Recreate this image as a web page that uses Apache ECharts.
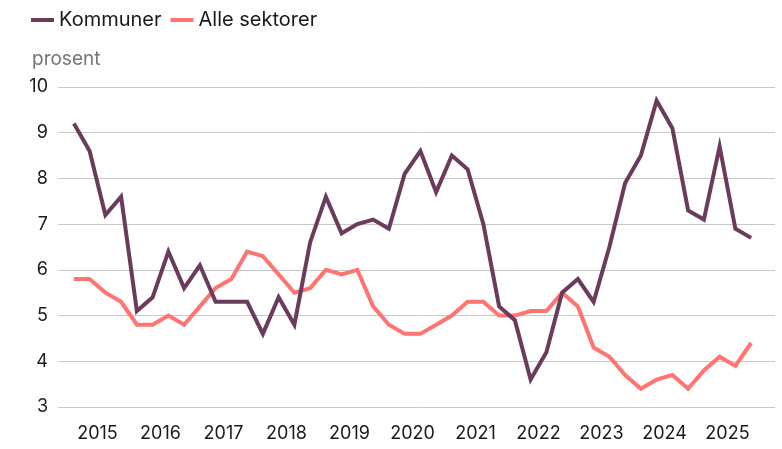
<!DOCTYPE html>
<html>
<head>
<meta charset="utf-8">
<script src="https://cdn.jsdelivr.net/npm/echarts@6/dist/echarts.min.js"></script>
<style>
  html, body { margin: 0; padding: 0; background: #fff; }
  #chart { width: 782px; height: 449px; }
</style>
</head>
<body>
<div id="chart"></div>
<script>
// kvartalsdata 2015K1 - 2025K4
const quarters = [];
for (let y = 2015; y <= 2025; y++) {
    for (let q = 1; q <= 4; q++) quarters.push(y + 'K' + q);
}
const years = ['2015', '2016', '2017', '2018', '2019', '2020', '2021', '2022', '2023', '2024', '2025'];

const kommuner = [
    9.2, 8.6, 7.2, 7.6, 5.1, 5.4, 6.4, 5.6, 6.1, 5.3, 5.3, 5.3,
    4.6, 5.4, 4.8, 6.6, 7.6, 6.8, 7.0, 7.1, 6.9, 8.1, 8.6, 7.7,
    8.5, 8.2, 7.0, 5.2, 4.9, 3.6, 4.2, 5.5, 5.8, 5.3, 6.5, 7.9,
    8.5, 9.7, 9.1, 7.3, 7.1, 8.7, 6.9, 6.7
];
const alleSektorer = [
    5.8, 5.8, 5.5, 5.3, 4.8, 4.8, 5.0, 4.8, 5.2, 5.6, 5.8, 6.4,
    6.3, 5.9, 5.5, 5.6, 6.0, 5.9, 6.0, 5.2, 4.8, 4.6, 4.6, 4.8,
    5.0, 5.3, 5.3, 5.0, 5.0, 5.1, 5.1, 5.5, 5.2, 4.3, 4.1, 3.7,
    3.4, 3.6, 3.7, 3.4, 3.8, 4.1, 3.9, 4.4
];

const fontFamily = 'Inter, "Liberation Sans", sans-serif';

const chart = echarts.init(document.getElementById('chart'));

let option = {
    animation: false,
    textStyle: { fontFamily: fontFamily },
    title: {
        text: 'prosent',
        left: 27,
        top: 45,
        textStyle: { fontSize: 19, fontWeight: 'normal', color: '#757575', fontFamily: fontFamily }
    },
    legend: {
        left: 26,
        top: 5,
        icon: 'rect',
        itemWidth: 23,
        itemHeight: 4,
        itemGap: 9,
        textStyle: { fontSize: 20, color: '#1a1a1a', fontFamily: fontFamily },
        data: ['Kommuner', 'Alle sektorer']
    },
    grid: [
        { left: 58, right: 7, top: 87, bottom: 42 },
        { left: 66, right: 23, top: 87, bottom: 42 }
    ],
    xAxis: [
        { gridIndex: 0, type: 'category', data: quarters, show: false },
        { gridIndex: 1, type: 'category', data: quarters, boundaryGap: true, position: 'top', show: false },
        {
            gridIndex: 1,
            type: 'category',
            data: years,
            boundaryGap: true,
            position: 'bottom',
            axisLine: { show: false },
            axisTick: { show: false },
            splitLine: { show: false },
            axisLabel: { fontSize: 18, color: '#1a1a1a', margin: 18, fontFamily: fontFamily }
        }
    ],
    yAxis: [
        {
            gridIndex: 0,
            type: 'value',
            min: 3,
            max: 10,
            interval: 1,
            axisLine: { show: false },
            axisTick: { show: false },
            axisLabel: { fontSize: 18, color: '#1a1a1a', margin: 10, fontFamily: fontFamily },
            splitLine: { lineStyle: { color: '#c8c8c8', width: 1 } }
        },
        { gridIndex: 1, type: 'value', min: 3, max: 10, show: false, splitLine: { show: false } }
    ],
    series: [
        {
            name: 'Kommuner',
            type: 'line',
            xAxisIndex: 1,
            yAxisIndex: 1,
            data: kommuner,
            showSymbol: false,
            lineStyle: { color: '#6b3b5c', width: 4, join: 'miter' },
            itemStyle: { color: '#6b3b5c' },
            z: 3
        },
        {
            name: 'Alle sektorer',
            type: 'line',
            xAxisIndex: 1,
            yAxisIndex: 1,
            data: alleSektorer,
            showSymbol: false,
            lineStyle: { color: '#ff7471', width: 4, join: 'miter' },
            itemStyle: { color: '#ff7471' },
            z: 2
        }
    ]
};

chart.setOption(option);
</script>
</body>
</html>
